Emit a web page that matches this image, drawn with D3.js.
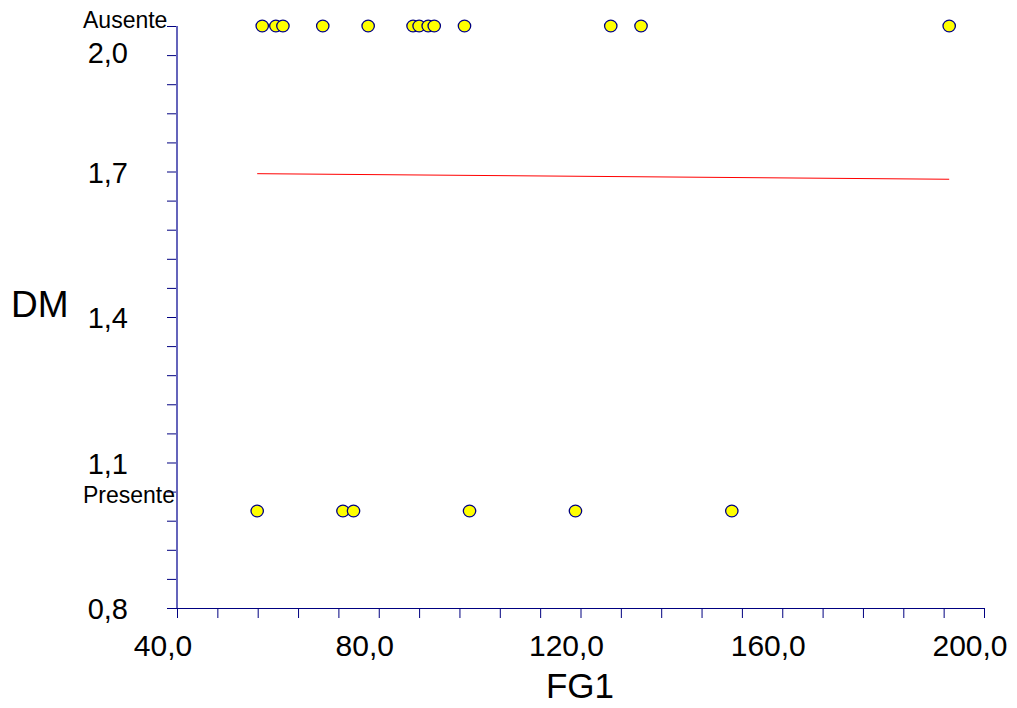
<!DOCTYPE html>
<html>
<head>
<meta charset="utf-8">
<script src="https://cdn.jsdelivr.net/npm/d3@7"></script>
<style>
  html, body { margin: 0; padding: 0; background: #fff; }
  svg { display: block; font-family: Arial, "Liberation Sans", sans-serif; }
</style>
</head>
<body>
<svg id="chart" width="1017" height="708"></svg>
<script>
// FG1 values of each observation, grouped by DM outcome
const fg1Ausente  = [56.9, 59.6, 61.0, 68.9, 77.9, 86.8, 88.0, 89.8, 91.0, 97.0, 126.0, 132.0, 193.1];
const fg1Presente = [55.9, 72.9, 75.0, 98.0, 119.0, 150.0];
// DM codes of the two groups
const dmAusente = 2.0;
const dmPresente = 1.0;
const groupNames = ["Ausente", "Presente"];

// fitted line, evaluated at the ends of the FG1 range
const fitX = [55.9, 193.1];
const fitY = [1.6955, 1.684];

// axis ticks and their labels
const xMajorTicks = [40, 80, 120, 160, 200];
const xTickLabels = ["40,0", "80,0", "120,0", "160,0", "200,0"];
const yMajorTicks = [0.8, 1.1, 1.4, 1.7, 2.0];
const yTickLabels = ["0,8", "1,1", "1,4", "1,7", "2,0"];

const svg = d3.select("#chart");
const x = d3.scaleLinear().domain([40, 200]).range([177, 984]);
const y = d3.scaleLinear().domain([0.8, 2.0]).range([608, 26]);

const navy = "#000080";

// minor ticks: 5 per major interval
const xMinor = d3.range(0, 21).map(i => 40 + i * 8);
const yMinor = d3.range(0, 21).map(i => 0.8 + i * 0.06);

// y axis
const yAxis = svg.append("g").attr("transform", `translate(${x(40)},0)`)
  .call(d3.axisLeft(y).tickValues(yMinor).tickSize(10).tickFormat(""));
yAxis.select(".domain").remove();
yAxis.selectAll(".tick line").attr("stroke", navy).attr("stroke-width", 1);
svg.append("line")
  .attr("x1", x(40)).attr("x2", x(40))
  .attr("y1", y(2.0)).attr("y2", y(0.8))
  .attr("stroke", "#6464bb").attr("stroke-width", 2);

// x axis
const xAxis = svg.append("g").attr("transform", `translate(0,${y(0.8)})`)
  .call(d3.axisBottom(x).tickValues(xMinor).tickSize(10).tickFormat(""));
xAxis.select(".domain").remove();
xAxis.selectAll(".tick line").attr("stroke", navy).attr("stroke-width", 1);
svg.append("line")
  .attr("x1", x(40) - 10).attr("x2", x(200))
  .attr("y1", Math.round(y(0.8)) + 0.5).attr("y2", Math.round(y(0.8)) + 0.5)
  .attr("stroke", navy).attr("stroke-width", 1);

// x tick labels
svg.append("g").selectAll("text")
  .data(xMajorTicks)
  .join("text")
  .attr("x", d => x(d) - 14)
  .attr("y", 656)
  .attr("text-anchor", "middle")
  .attr("font-size", 30)
  .attr("fill", "#000")
  .text((d, i) => xTickLabels[i]);

// y tick labels; the top one sits lower to clear the group name
const groupValues = [dmAusente, dmPresente];
svg.append("g").selectAll("text")
  .data(yMajorTicks)
  .join("text")
  .attr("x", 128)
  .attr("y", d => y(d) + 11 + (Math.abs(d - dmAusente) < 1e-9 ? 26 : 0))
  .attr("text-anchor", "end")
  .attr("font-size", 29)
  .attr("fill", "#000")
  .text((d, i) => yTickLabels[i]);

// group names beside the axis
svg.append("g").selectAll("text")
  .data(groupValues)
  .join("text")
  .attr("x", 83)
  .attr("y", (d, i) => y(d) + (i === 0 ? 2 : -8))
  .attr("font-size", 23)
  .attr("fill", "#000")
  .text((d, i) => groupNames[i]);

// axis titles
svg.append("text")
  .attr("x", 580).attr("y", 698)
  .attr("text-anchor", "middle")
  .attr("font-size", 35)
  .text("FG1");
svg.append("text")
  .attr("x", 11).attr("y", 317)
  .attr("font-size", 37)
  .text("DM");

// fitted line
svg.append("line")
  .attr("x1", x(fitX[0])).attr("y1", y(fitY[0]))
  .attr("x2", x(fitX[1])).attr("y2", y(fitY[1]))
  .attr("stroke", "#ff0000").attr("stroke-width", 1);

// observations
const points = fg1Ausente.map(v => ({ fg1: v, dm: dmAusente }))
  .concat(fg1Presente.map(v => ({ fg1: v, dm: dmPresente })));
svg.append("g").selectAll("ellipse")
  .data(points)
  .join("ellipse")
  .attr("cx", d => x(d.fg1))
  .attr("cy", d => y(d.dm))
  .attr("rx", 6.2)
  .attr("ry", 5.8)
  .attr("fill", "#ffff00")
  .attr("stroke", navy)
  .attr("stroke-width", 1.3);
</script>
</body>
</html>
